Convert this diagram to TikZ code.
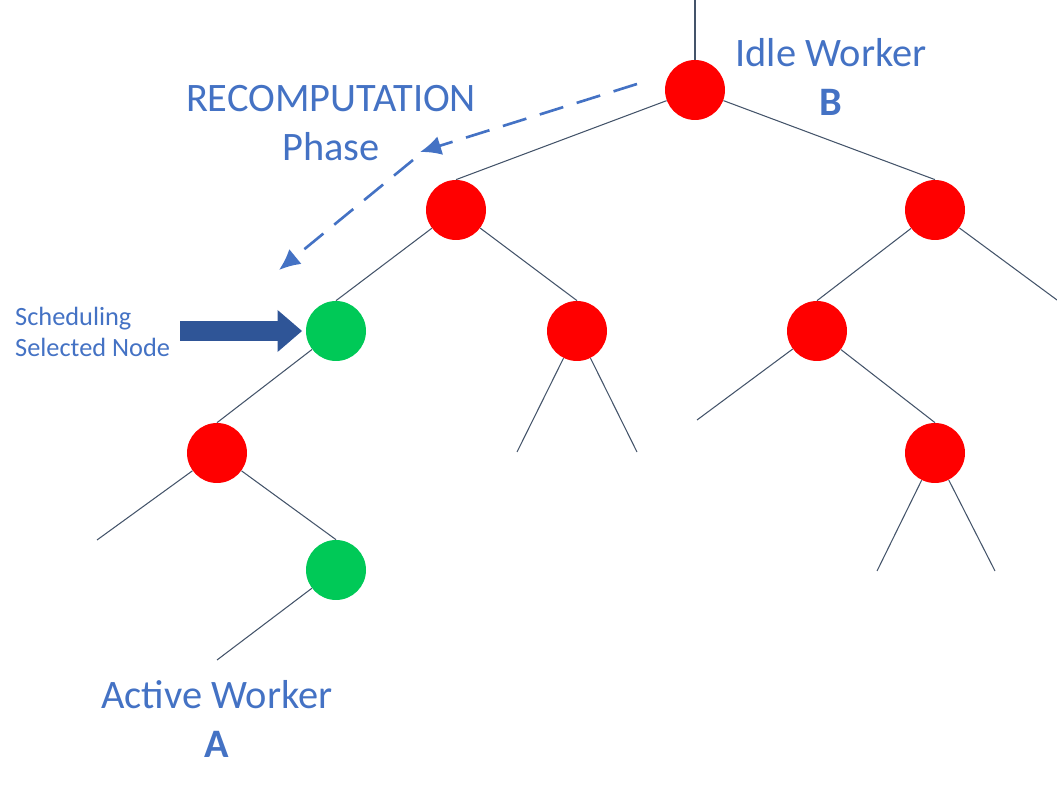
\documentclass[tikz,border=0pt]{standalone}
\usepackage{fontspec}
\setmainfont{Carlito}
\usetikzlibrary{arrows.meta}
\definecolor{txtblue}{HTML}{4472C4}
\definecolor{edgegray}{HTML}{44546A}
\definecolor{arrblue}{HTML}{2F5597}
\definecolor{nodered}{HTML}{FF0000}
\definecolor{nodegreen}{HTML}{00C957}
\tikzset{
  busy/.style={circle, fill=nodered, minimum size=1.2cm, inner sep=0pt},
  picked/.style={circle, fill=nodegreen, minimum size=1.2cm, inner sep=0pt},
  edge/.style={edgegray, line width=0.6pt},
  phase/.style={txtblue, line width=1.5pt, dash pattern=on 14pt off 8pt, -{Latex[length=12pt,width=11pt]}},
  biglabel/.style={txtblue, font=\fontsize{23}{28}\selectfont, align=center}
}
\begin{document}
\begin{tikzpicture}[x=0.02cm, y=-0.02cm]
    \useasboundingbox (0,0) rectangle (1057,786);

    % tree nodes
    \node[busy]   (root) at (695, 90) {};
    \node[busy]   (L)    at (456,210) {};
    \node[busy]   (R)    at (935,210) {};
    \node[picked] (LL)   at (336,331) {};
    \node[busy]   (LR)   at (577,331) {};
    \node[busy]   (RL)   at (817,331) {};
    \node[busy]   (LLL)  at (217,453) {};
    \node[busy]   (RLR)  at (935,453) {};
    \node[picked] (LLLR) at (336,570) {};

    % free ends
    \coordinate (top)   at (695,  0);
    \coordinate (Rend)  at (1057,300);
    \coordinate (LRa)   at (517,452);
    \coordinate (LRb)   at (637,452);
    \coordinate (RLa)   at (697,420);
    \coordinate (LLLa)  at (97,540);
    \coordinate (RLRa)  at (877,571);
    \coordinate (RLRb)  at (995,571);
    \coordinate (leaf)  at (217,660);

    \draw[edge] (top) -- (root.north);
    \draw[edge] (root) -- (L.north);
    \draw[edge] (root) -- (R.north);
    \draw[edge] (L) -- (LL.north);
    \draw[edge] (L) -- (LR.north);
    \draw[edge] (R) -- (RL.north);
    \draw[edge] (R) -- (Rend);
    \draw[edge] (LL) -- (LLL.north);
    \draw[edge] (LR) -- (LRa);
    \draw[edge] (LR) -- (LRb);
    \draw[edge] (RL) -- (RLa);
    \draw[edge] (RL) -- (RLR.north);
    \draw[edge] (LLL) -- (LLLa);
    \draw[edge] (LLL) -- (LLLR.north);
    \draw[edge] (RLR) -- (RLRa);
    \draw[edge] (RLR) -- (RLRb);
    \draw[edge] (LLLR) -- (leaf);

    % labels
    \node[biglabel] (recomp) at (331,123) {RECOMPUTATION\\Phase};
    \node[biglabel] (idle)   at (831,77)  {Idle Worker\\\textbf{B}};
    \node[biglabel] (active) at (217,719) {Active Worker\\\textbf{A}};
    \node[txtblue, font=\fontsize{15}{17.5}\selectfont, align=left, anchor=west] (sched) at (9,332) {Scheduling\\Selected Node};

    % recomputation path
    \coordinate (d0) at (637,84);
    \coordinate (d1) at (420,152);
    \coordinate (d2) at (413,160);
    \coordinate (d3) at (279,270);
    \draw[phase] (d0) -- (d1);
    \draw[phase] (d2) -- (d3);

    % selection arrow
    \coordinate (s0) at (180,331);
    \draw[arrblue, line width=11pt, shorten >=2pt, -{Triangle[length=14pt,width=23pt]}] (s0) -- (LL.west);
\end{tikzpicture}
\end{document}
